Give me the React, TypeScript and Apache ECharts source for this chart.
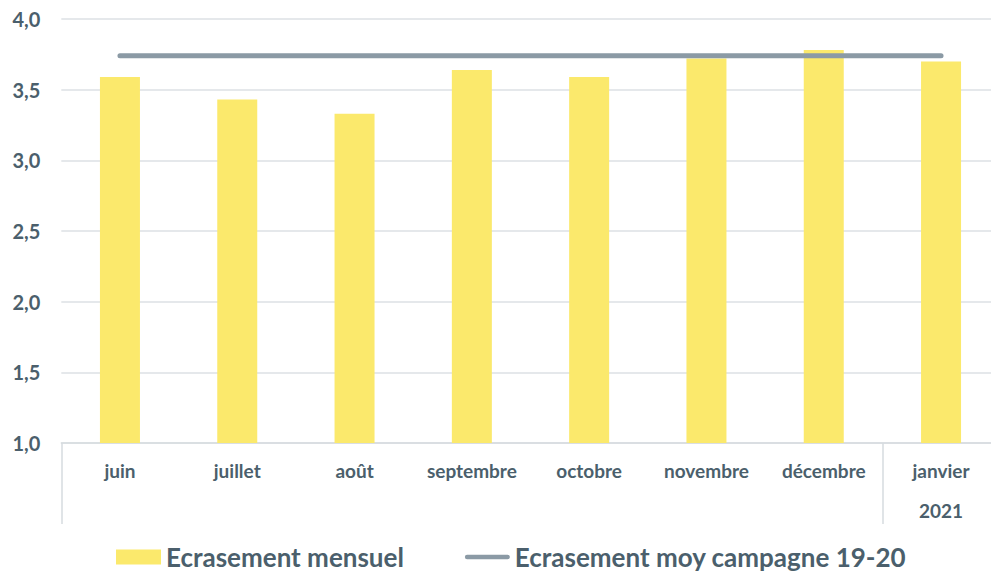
import React, { useEffect, useRef } from "react";
import * as echarts from "echarts";

const months = ["juin", "juillet", "août", "septembre", "octobre", "novembre", "décembre", "janvier"];
const yearLabels = ["", "", "", "", "", "", "", "2021"];
const monthly = [3.59, 3.43, 3.33, 3.64, 3.59, 3.72, 3.78, 3.7];
const campaignAvg = [3.74, 3.74, 3.74, 3.74, 3.74, 3.74, 3.74, 3.74];
const seriesNames = ["Ecrasement mensuel", "Ecrasement moy campagne 19-20"];

const TEXT = "#4B5F6C";
const FONT = "Lato, 'Open Sans', sans-serif";

export default function App() {
  const ref = useRef<HTMLDivElement>(null);
  useEffect(() => {
    if (!ref.current) return;
    const chart = echarts.init(ref.current, null, { renderer: "svg" });
    chart.setOption({
      animation: false,
      textStyle: { fontFamily: FONT },
      grid: { left: 61.3, right: 0.3, top: 19, bottom: 131, containLabel: false },
      legend: {
        left: 116,
        top: 543,
        padding: 0,
        itemWidth: 45,
        itemHeight: 15,
        itemGap: 61,
        textStyle: { color: TEXT, fontSize: 26, fontWeight: "bold", fontFamily: FONT, lineHeight: 28 },
        data: [
          { name: seriesNames[0], icon: "rect" },
          { name: seriesNames[1], icon: "path://M2.5,0 L47.5,0 A2.5,2.5 0 0 1 47.5,5 L2.5,5 A2.5,2.5 0 0 1 2.5,0 Z" },
        ],
      },
      xAxis: [
        {
          type: "category",
          data: months,
          boundaryGap: true,
          axisLine: { show: true, lineStyle: { color: "#D6DBDF", width: 1.5 } },
          axisTick: {
            show: true,
            length: 81,
            interval: (i: number) => i === 0 || i === 7,
            lineStyle: { color: "#D6DBDF", width: 1.5 },
          },
          axisLabel: { color: TEXT, fontSize: 19, fontWeight: "bold", margin: 18, interval: 0, fontFamily: FONT },
        },
        {
          type: "category",
          data: yearLabels,
          position: "bottom",
          offset: 40,
          boundaryGap: true,
          axisLine: { show: false },
          axisTick: { show: false },
          axisLabel: { color: TEXT, fontSize: 19, fontWeight: "bold", margin: 18, interval: 0, fontFamily: FONT },
        },
      ],
      yAxis: {
        type: "value",
        min: 1,
        max: 4,
        interval: 0.5,
        axisLine: { show: false },
        axisTick: { show: false },
        splitLine: { lineStyle: { color: "#DCE0E4", width: 1.5 } },
        axisLabel: {
          color: TEXT,
          fontSize: 20,
          fontWeight: "bold",
          margin: 21,
          fontFamily: FONT,
          formatter: (v: number) => v.toFixed(1).replace(".", ","),
        },
      },
      series: [
        {
          name: seriesNames[0],
          type: "bar",
          xAxisIndex: 0,
          data: monthly,
          barWidth: 40,
          itemStyle: { color: "#FBE96C" },
        },
        {
          name: seriesNames[1],
          type: "line",
          xAxisIndex: 0,
          data: campaignAvg,
          symbol: "none",
          lineStyle: { color: "#8B9AA5", width: 5, cap: "round" },
          itemStyle: { color: "#8B9AA5" },
        },
      ],
    });
    return () => chart.dispose();
  }, []);
  return (
    <div style={{ position: "fixed", left: 0, top: 0, width: 991, height: 574, overflow: "hidden", background: "#fff" }}>
      <div ref={ref} style={{ width: 1000, height: 574 }} />
    </div>
  );
}
